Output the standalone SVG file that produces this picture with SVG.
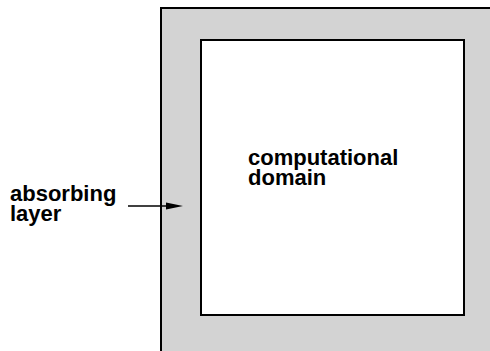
<svg xmlns="http://www.w3.org/2000/svg" width="490" height="351" viewBox="0 0 490 351">
<style>
.lbl{font-family:"Liberation Sans",Arial,sans-serif;font-weight:bold;font-size:22px;fill:#000}
.box{stroke:#000;stroke-width:2}
</style>
<rect width="490" height="351" fill="#fff"/>
<g id="absorbing-layer">
<rect class="box" x="161" y="8" width="340" height="360" fill="#d3d3d3"/>
</g>
<g id="computational-domain">
<rect class="box" x="201" y="40" width="263" height="275" fill="#fff"/>
<text class="lbl"><tspan x="248" y="165">computational</tspan><tspan x="248" y="185">domain</tspan></text>
</g>
<g id="label-absorbing">
<text class="lbl"><tspan x="10" y="201">absorbing</tspan><tspan x="10" y="221">layer</tspan></text>
</g>
<g id="connectors">
<line x1="128" y1="206" x2="168" y2="206" stroke="#000" stroke-width="1.5"/>
<polygon points="166,202.5 183,206 166,209.5" fill="#000"/>
</g>
</svg>
